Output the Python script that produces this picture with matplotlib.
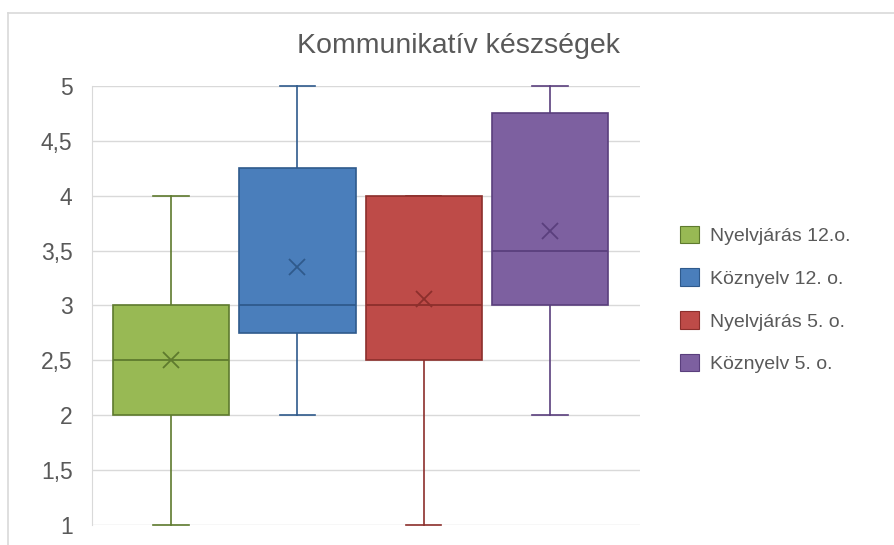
import matplotlib.pyplot as plt
from matplotlib.lines import Line2D
from matplotlib.patches import Patch

plt.rcParams['font.family'] = ['Liberation Sans', 'DejaVu Sans']

labels = ['Nyelvjárás 12.o.', 'Köznyelv 12. o.', 'Nyelvjárás 5. o.', 'Köznyelv 5. o.']
whislo = [1, 2, 1, 2]
q1 = [2, 2.75, 2.5, 3]
med = [2.5, 3, 3, 3.5]
q3 = [3, 4.25, 4, 4.75]
whishi = [4, 5, 4, 5]
means = [2.5, 3.35, 3.06, 3.68]

face = ['#98B954', '#4A7EBB', '#BE4B48', '#7D60A0']
edge = ['#5E7A2E', '#2F5A8C', '#8C2F2C', '#5A3F7D']
yticks = [1, 1.5, 2, 2.5, 3, 3.5, 4, 4.5, 5]

fig = plt.figure(figsize=(8.95, 5.45), dpi=100)
ax = fig.add_axes([0.1028, 0.0367, 0.6122, 0.8055])

stats = []
for i in range(len(labels)):
    stats.append(dict(whislo=whislo[i], q1=q1[i], med=med[i], q3=q3[i],
                      whishi=whishi[i], mean=means[i], fliers=[]))

bp = ax.bxp(stats, positions=range(len(labels)), widths=0.92, patch_artist=True,
            showmeans=True, manage_ticks=False, showcaps=True)
for i in range(len(labels)):
    bp['boxes'][i].set(facecolor=face[i], edgecolor=edge[i], linewidth=1.2, zorder=3)
    bp['medians'][i].set(color=edge[i], linewidth=1.3, zorder=4)
    bp['means'][i].set(marker='x', markeredgecolor=edge[i], markersize=11,
                       markeredgewidth=1.3, zorder=5)
    for w in bp['whiskers'][2 * i:2 * i + 2]:
        w.set(color=edge[i], linewidth=1.2, clip_on=False)
    for c in bp['caps'][2 * i:2 * i + 2]:
        c.set(color=edge[i], linewidth=1.2, clip_on=False, xdata=[i - 0.14, i + 0.14])

ax.set_xlim(-0.625, 3.71)
ax.set_ylim(1, 5)
ax.set_yticks(yticks)
ax.set_yticklabels([('%g' % t).replace('.', ',') for t in yticks])
ax.set_xticks([])
ax.tick_params(axis='y', length=0, pad=14, labelsize=16.5, labelcolor='#595959')
ax.grid(axis='y', color='#D9D9D9', linewidth=1, zorder=0)
ax.set_axisbelow(True)
for s in ['top', 'right', 'bottom']:
    ax.spines[s].set_visible(False)
ax.spines['left'].set_color('#D9D9D9')

fig.text(0.512, 0.9028, 'Kommunikatív készségek', ha='center', va='baseline',
         fontsize=20.5, color='#595959')

handles = [Patch(facecolor=face[i], edgecolor=edge[i], linewidth=0.8) for i in range(len(labels))]
fig.legend(handles, labels, loc='center left', bbox_to_anchor=(0.74, 0.4505),
           frameon=False, fontsize=14, labelcolor='#595959', handlelength=1.0,
           handleheight=1.0, labelspacing=1.2, handletextpad=0.55)

# outer chart frame
fig.add_artist(Line2D([0.009, 1.0], [0.976, 0.976], color='#D9D9D9', linewidth=1.2))
fig.add_artist(Line2D([0.009, 0.009], [0.0, 0.976], color='#D9D9D9', linewidth=1.2))

fig.savefig('out.png', dpi=100)
